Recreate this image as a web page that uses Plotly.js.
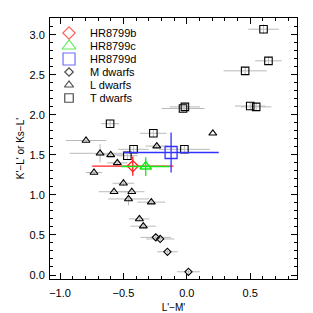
<!DOCTYPE html>
<html>
<head>
<meta charset="utf-8">
<script src="https://cdn.plot.ly/plotly-3.0.1.min.js"></script>
<style>
html,body{margin:0;padding:0;background:#fff;}
#chart{width:313px;height:313px;}
</style>
</head>
<body>
<div id="chart"></div>
<script>
// ---- data ----
const mDwarfX    = [-0.245, -0.21, -0.153, 0.013];
const mDwarfY    = [0.47, 0.45, 0.29, 0.04];
const mDwarfXErr = [0.12, 0.11, 0.08, 0.09];
const mDwarfYErr = [0.03, 0.03, 0.03, 0.03];

const lDwarfX    = [-0.795, -0.237, -0.684, -0.60, -0.548, -0.732, 0.205, -0.50, -0.574, -0.434, -0.46, -0.28, -0.374, -0.343];
const lDwarfY    = [1.68, 1.61, 1.52, 1.50, 1.40, 1.28, 1.77, 1.146, 1.04, 1.04, 0.95, 0.91, 0.70, 0.61];
const lDwarfXErr = [0.16, 0.09, 0.24, 0.10, 0.08, 0.065, 0, 0.085, 0.12, 0.10, 0.16, 0.11, 0.08, 0.10];
const lDwarfYErr = [0.03, 0.03, 0.115, 0.03, 0.03, 0.03, 0, 0.03, 0.03, 0.03, 0.08, 0.03, 0.03, 0.03];

const tDwarfX    = [-0.605, -0.264, -0.42, -0.469, -0.019, -0.03, -0.015, 0.605, 0.644, 0.46, 0.50, 0.547];
const tDwarfY    = [1.89, 1.77, 1.57, 1.49, 1.57, 2.08, 2.10, 3.07, 2.675, 2.55, 2.11, 2.10];
const tDwarfXErr = [0.07, 0.105, 0.12, 0.08, 0.2, 0.17, 0.12, 0.12, 0.105, 0.17, 0.12, 0.12];
const tDwarfYErr = [0.05, 0.05, 0.05, 0.05, 0.05, 0.05, 0.05, 0.06, 0.05, 0.05, 0.05, 0.05];

const planetNames = ['HR8799b', 'HR8799c', 'HR8799d'];
const planetX     = [-0.426, -0.324, -0.124];
const planetY     = [1.36, 1.355, 1.53];
const planetXErr  = [0.32, 0.19, 0.376];
const planetYErr  = [0.12, 0.117, 0.25];

const legendLabels = ['HR8799b', 'HR8799c', 'HR8799d', 'M dwarfs', 'L dwarfs', 'T dwarfs'];
const xTickVals = [-1.0, -0.5, 0.0, 0.5];
const xTickText = ['\u22121.0', '\u22120.5', '0.0', '0.5'];
const yTickVals = [0.0, 0.5, 1.0, 1.5, 2.0, 2.5, 3.0];
const yTickText = ['0.0', '0.5', '1.0', '1.5', '2.0', '2.5', '3.0'];

// ---- styles ----
const errGray = 'rgb(185,185,185)';
const planetColors = ['rgb(255,30,30)', 'rgb(20,230,20)', 'rgb(50,50,255)'];
const planetSymbols = ['diamond-open', 'triangle-up-open', 'square-open'];
const planetSizes = [8.5, 10, 12];
const dwarfSymbols = ['diamond-open', 'triangle-up-open', 'square-open'];
const dwarfSizes = [5.5, 7, 7.5];
const keySizes = [9.5, 12, 12, 6.5, 8, 8.5];
const fontFam = 'Liberation Sans, Arial, sans-serif';

function dwarfTrace(x, y, ex, ey, k, name) {
  return {
    type: 'scatter', mode: 'markers', name: name, x: x, y: y,
    marker: {symbol: dwarfSymbols[k], size: dwarfSizes[k], color: 'black', line: {color: 'black', width: 1.1}},
    error_x: {type: 'data', array: ex, visible: true, color: errGray, thickness: 1, width: 0},
    error_y: {type: 'data', array: ey, visible: true, color: errGray, thickness: 1, width: 0},
    showlegend: false, hoverinfo: 'skip'
  };
}

const traces = [
  dwarfTrace(lDwarfX, lDwarfY, lDwarfXErr, lDwarfYErr, 1, 'L dwarfs'),
  dwarfTrace(mDwarfX, mDwarfY, mDwarfXErr, mDwarfYErr, 0, 'M dwarfs'),
  dwarfTrace(tDwarfX, tDwarfY, tDwarfXErr, tDwarfYErr, 2, 'T dwarfs')
];
for (let i = 0; i < planetNames.length; i++) {
  traces.push({
    type: 'scatter', mode: 'markers', name: planetNames[i],
    x: [planetX[i]], y: [planetY[i]],
    marker: {symbol: planetSymbols[i], size: planetSizes[i], color: planetColors[i],
             line: {color: planetColors[i], width: 1.3}},
    error_x: {type: 'data', array: [planetXErr[i]], visible: true, color: planetColors[i], thickness: 1.3, width: 0},
    error_y: {type: 'data', array: [planetYErr[i]], visible: true, color: planetColors[i], thickness: 1.3, width: 0},
    showlegend: false, hoverinfo: 'skip'
  });
}

// legend: key symbols on an overlay axis (0..1 box), labels as annotations
const plotTop = 18, plotH = 261;
const annotations = [];
const keyX = [], keyY = [], keySym = [], keyCol = [];
for (let i = 0; i < legendLabels.length; i++) {
  const py = 33 + i * 13;
  const yp = 1 - (py - plotTop) / plotH;
  keyX.push(0.077); keyY.push(yp);
  keySym.push(i < 3 ? planetSymbols[i] : dwarfSymbols[i - 3]);
  keyCol.push(i < 3 ? planetColors[i] : 'black');
  annotations.push({
    xref: 'paper', yref: 'paper', x: 0.154, y: yp, xanchor: 'left', yanchor: 'middle',
    text: legendLabels[i], showarrow: false,
    font: {family: fontFam, size: 11, color: 'black'}
  });
}
traces.push({
  type: 'scatter', mode: 'markers', xaxis: 'x2', yaxis: 'y2',
  x: keyX, y: keyY,
  marker: {symbol: keySym, size: keySizes, color: keyCol, line: {color: keyCol, width: 1.2}},
  showlegend: false, hoverinfo: 'skip', cliponaxis: false
});

const axisCommon = {
  showgrid: false, zeroline: false, showline: true, linecolor: 'black', linewidth: 1,
  mirror: 'allticks', ticks: 'inside', ticklen: 6, tickwidth: 1, tickcolor: 'black',
  tickfont: {family: fontFam, size: 11, color: 'black'},
  minor: {dtick: 0.1, ticks: 'inside', ticklen: 3, tickwidth: 1, tickcolor: 'black', showgrid: false}
};

const layout = {
  width: 313, height: 313,
  margin: {l: 50, r: 16, t: 18, b: 34},
  paper_bgcolor: 'white', plot_bgcolor: 'white',
  showlegend: false,
  xaxis: Object.assign({}, axisCommon, {
    range: [-1.079, 0.869], tickvals: xTickVals, ticktext: xTickText, ticklabelstandoff: 4,
    title: {text: "L'\u2212M'", font: {family: fontFam, size: 10, color: 'black'}, standoff: 5}
  }),
  yaxis: Object.assign({}, axisCommon, {
    range: [-0.05, 3.21], tickvals: yTickVals, ticktext: yTickText, ticklabelstandoff: 2,
    title: {text: "K'\u2212L' or Ks\u2212L'", font: {family: fontFam, size: 10, color: 'black'}, standoff: 3}
  }),
  xaxis2: {overlaying: 'x', range: [0, 1], visible: false, fixedrange: true},
  yaxis2: {overlaying: 'y', range: [0, 1], visible: false, fixedrange: true},
  annotations: annotations
};

Plotly.newPlot('chart', traces, layout, {staticPlot: true, displayModeBar: false});
</script>
</body>
</html>
